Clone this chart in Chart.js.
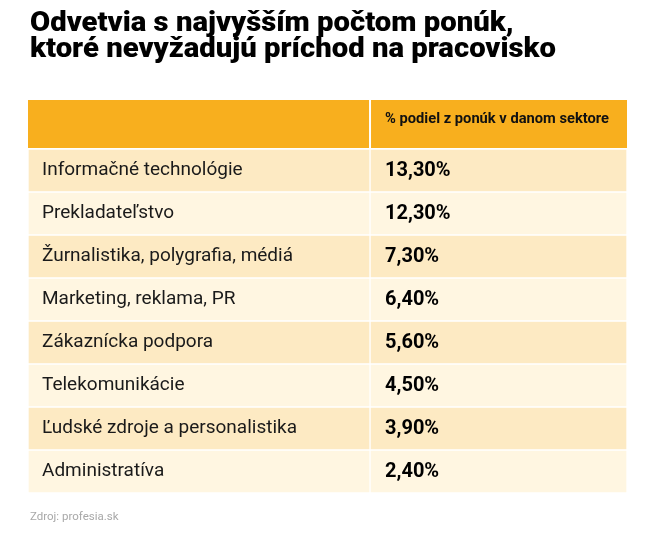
<!DOCTYPE html>
<html>
<head>
<meta charset="utf-8">
<script src="https://cdn.jsdelivr.net/npm/chart.js@4"></script>
<style>
  body { margin: 0; background: #fff; }
  #wrap { position: relative; width: 656px; height: 538px; overflow: hidden; }
  #title {
    position: absolute; left: 30px; top: 9px; margin: 0;
    font: 900 27px Roboto, sans-serif; line-height: 26px; color: #000;
    transform-origin: left top; white-space: nowrap;
  }
  #title span { display: inline-block; }
  #source {
    position: absolute; left: 30px; top: 509px;
    font: 400 11.5px Roboto, sans-serif; color: #a8a8a8;
  }
</style>
</head>
<body>
<div id="wrap">
  <canvas id="table" width="656" height="538"></canvas>
  <h1 id="title"><span>Odvetvia s najvyšším počtom ponúk,</span><br><span id="t2">ktoré nevyžadujú príchod na pracovisko</span></h1>
  <div id="source">Zdroj: profesia.sk</div>
</div>
<script>
// === Dáta ===
const sectors = [
  'Informačné technológie',
  'Prekladateľstvo',
  'Žurnalistika, polygrafia, médiá',
  'Marketing, reklama, PR',
  'Zákaznícka podpora',
  'Telekomunikácie',
  'Ľudské zdroje a personalistika',
  'Administratíva'
];
const shares = [13.3, 12.3, 7.3, 6.4, 5.6, 4.5, 3.9, 2.4];
const headerText = '% podiel z ponúk v danom sektore';

// === Vzhľad ===
const SPLIT = 0.571;          // hranica medzi stĺpcami (0..1)
const HEADER_H = 49;
const ORANGE = '#f8af1e';
const ROW_DARK = '#fdeac3';
const ROW_LIGHT = '#fff6e1';
const rowColors = sectors.map((_, i) => i % 2 === 0 ? ROW_DARK : ROW_LIGHT);
const fmt = v => v.toFixed(2).replace('.', ',') + '%';

// stlačenie nadpisu (condensed vzhľad)
const t2 = document.getElementById('t2');
const sc = 526 / t2.getBoundingClientRect().width;
document.getElementById('title').style.transform = 'scaleX(' + sc + ')';

// === Plugin: hlavička + texty v bunkách ===
const tableText = {
  id: 'tableText',
  beforeDatasetsDraw(chart) {
    const { ctx, chartArea, scales: { x } } = chart;
    const x0 = x.getPixelForValue(0), xs = x.getPixelForValue(SPLIT), x1 = x.getPixelForValue(1);
    const top = chartArea.top - HEADER_H;
    ctx.save();
    ctx.fillStyle = ORANGE;
    ctx.fillRect(x0, top, xs - x0 - 1, HEADER_H - 1);
    ctx.fillRect(xs + 1, top, x1 - xs - 1, HEADER_H - 1);
    ctx.restore();
  },
  afterDatasetsDraw(chart) {
    const { ctx, chartArea, scales: { x, y } } = chart;
    const x0 = x.getPixelForValue(0), xs = x.getPixelForValue(SPLIT);
    ctx.save();
    ctx.fillStyle = '#111';
    ctx.textBaseline = 'middle';
    ctx.textAlign = 'left';
    ctx.font = '700 14.7px Roboto, sans-serif';
    ctx.fillText(headerText, xs + 15, chartArea.top - HEADER_H / 2 - 5);
    sectors.forEach((s, i) => {
      const yc = y.getPixelForValue(i);
      ctx.font = '400 19px Roboto, sans-serif';
      ctx.fillStyle = '#1a1a1a';
      ctx.fillText(s, x0 + 14, yc);
      ctx.font = '700 20px Roboto, sans-serif';
      ctx.fillStyle = '#000';
      ctx.fillText(fmt(shares[i]), xs + 15, yc);
    });
    ctx.restore();
  }
};

new Chart(document.getElementById('table'), {
  type: 'bar',
  data: {
    labels: sectors,
    datasets: [
      { data: sectors.map(() => [0, SPLIT]), backgroundColor: rowColors },
      { data: shares.map(() => [SPLIT, 1]), backgroundColor: rowColors }
    ]
  },
  options: {
    indexAxis: 'y',
    responsive: false,
    animation: false,
    layout: { padding: { left: 28, right: 29, top: 149, bottom: 45 } },
    datasets: {
      bar: {
        grouped: false, barPercentage: 1, categoryPercentage: 1,
        borderColor: '#ffffff', borderWidth: 1, borderSkipped: false
      }
    },
    scales: {
      x: { type: 'linear', min: 0, max: 1, display: false },
      y: { display: false }
    },
    plugins: { legend: { display: false }, tooltip: { enabled: false } }
  },
  plugins: [tableText]
});
</script>
</body>
</html>
